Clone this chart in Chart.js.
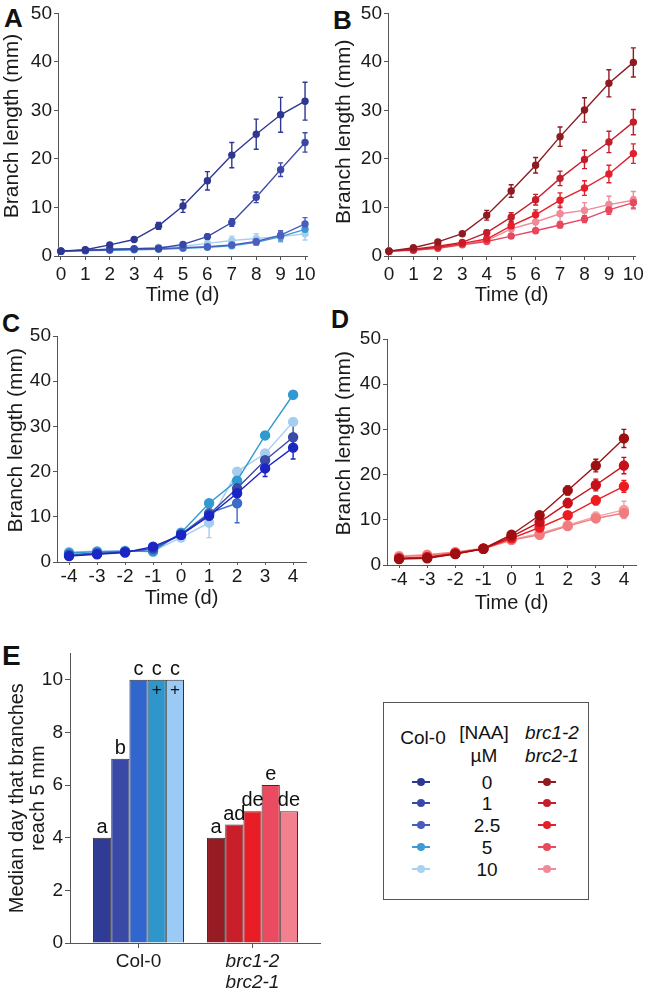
<!DOCTYPE html>
<html>
<head>
<meta charset="utf-8">
<script src="https://cdn.jsdelivr.net/npm/chart.js@4.4.1/dist/chart.umd.min.js"></script>
<style>
  body { margin: 0; background: #fff; font-family: "Liberation Sans", Arial, sans-serif; }
  #fig { position: relative; width: 647px; height: 994px; overflow: hidden; }
  .panel { position: absolute; }
  .tag { position: absolute; font-weight: bold; line-height: 1; color: #111; }
  #legend { position: absolute; left: 383px; top: 702px; width: 204px; height: 196px; border: 1px solid #555; }
  #legend span { position: absolute; transform: translate(-50%, -50%); white-space: nowrap; font-size: 19px; color: #111; line-height: 1; }
  #legend i { font-style: italic; }
  .mk { position: absolute; width: 18px; height: 2px; transform: translate(-50%, -50%); }
  .mk b { position: absolute; left: 5px; top: -3px; width: 8px; height: 8px; border-radius: 50%; background: inherit; }
</style>
</head>
<body>
<div id="fig">
  <div class="tag" style="left:4px;top:5px;font-size:26px">A</div>
  <div class="tag" style="left:333px;top:7px;font-size:26px">B</div>
  <div class="tag" style="left:2px;top:311px;font-size:25px">C</div>
  <div class="tag" style="left:331px;top:307px;font-size:25px">D</div>
  <div class="tag" style="left:2px;top:642px;font-size:28px">E</div>

  <div class="panel" style="left:0;top:0"><canvas id="chartA" width="320" height="310"></canvas></div>
  <div class="panel" style="left:330px;top:0"><canvas id="chartB" width="317" height="310"></canvas></div>
  <div class="panel" style="left:0;top:320px"><canvas id="chartC" width="320" height="300"></canvas></div>
  <div class="panel" style="left:330px;top:320px"><canvas id="chartD" width="317" height="300"></canvas></div>
  <div class="panel" style="left:0;top:640px"><canvas id="chartE" width="330" height="354"></canvas></div>
  <div id="legend"></div>
</div>

<script>
// ---- data ----
const concentrations = ['0', '1', '2.5', '5', '10'];   // [NAA] uM
const daysAB = [0, 1, 2, 3, 4, 5, 6, 7, 8, 9, 10];
const daysCD = [-4, -3, -2, -1, 0, 1, 2, 3, 4];

// A: Col-0 branch length (mm)
const aLen0   = [1.0, 1.3, 2.3, 3.4, 6.2, 10.3, 15.5, 20.8, 25.1, 29.1, 31.9];
const aLen1   = [1.0, 1.2, 1.4, 1.5, 1.6, 2.4, 4.0, 6.9, 12.1, 17.8, 23.4];
const aLen2_5 = [1.0, 1.1, 1.3, 1.4, 1.5, 1.7, 1.9, 2.3, 3.0, 4.3, 6.6];
const aLen5   = [1.0, 1.1, 1.2, 1.3, 1.4, 1.6, 1.8, 2.1, 2.8, 4.0, 5.5];
const aLen10  = [1.1, 1.2, 1.4, 1.5, 1.8, 2.0, 2.6, 3.2, 3.6, 4.0, 4.6];
const aErr0   = [0.2, 0.2, 0.3, 0.3, 0.7, 1.3, 1.9, 2.6, 3.1, 3.6, 3.9];
const aErr1   = [0.2, 0.2, 0.2, 0.2, 0.3, 0.4, 0.5, 0.8, 1.1, 1.4, 2.0];
const aErr2_5 = [0.2, 0.2, 0.2, 0.2, 0.2, 0.3, 0.3, 0.4, 0.6, 0.9, 1.3];
const aErr5   = [0.2, 0.2, 0.2, 0.2, 0.2, 0.3, 0.3, 0.4, 0.6, 0.9, 1.2];
const aErr10  = [0.2, 0.2, 0.2, 0.3, 0.4, 0.5, 0.7, 0.9, 1.0, 1.1, 1.3];

// B: brc1-2 brc2-1 branch length (mm)
const bLen0   = [1.0, 1.7, 2.9, 4.6, 8.4, 13.4, 18.7, 24.6, 30.1, 35.6, 39.9];
const bLen1   = [1.0, 1.4, 2.0, 2.8, 4.8, 8.0, 11.6, 16.0, 19.9, 23.5, 27.6];
const bLen2_5 = [1.0, 1.3, 1.8, 2.6, 3.5, 6.2, 8.5, 11.5, 14.0, 16.9, 21.1];
const bLen5   = [1.0, 1.2, 1.6, 2.3, 3.0, 4.1, 5.2, 6.4, 7.6, 9.5, 11.0];
const bLen10  = [1.1, 1.2, 1.7, 2.4, 3.2, 5.6, 7.0, 8.7, 9.4, 10.6, 11.5];
const bErr0   = [0.2, 0.3, 0.3, 0.4, 1.0, 1.3, 1.6, 2.0, 2.5, 2.8, 3.0];
const bErr1   = [0.2, 0.2, 0.3, 0.3, 0.5, 0.9, 1.1, 1.5, 1.9, 2.2, 2.6];
const bErr2_5 = [0.2, 0.2, 0.2, 0.3, 0.4, 0.7, 1.0, 1.5, 1.5, 1.8, 2.0];
const bErr5   = [0.2, 0.2, 0.2, 0.3, 0.3, 0.4, 0.5, 0.6, 0.7, 0.9, 1.1];
const bErr10  = [0.2, 0.2, 0.3, 0.4, 0.6, 0.9, 1.3, 1.6, 1.6, 1.7, 1.8];

// C: Col-0, aligned to day branch reached 5 mm
const cLen0   = [1.3, 1.7, 2.1, 3.4, 6.0, 10.2, 15.2, 20.7, 25.3];
const cLen1   = [1.5, 1.8, 2.2, 3.0, 6.0, 10.5, 16.3, 22.5, 27.6];
const cLen2_5 = [1.6, 2.0, 2.3, 2.8, 6.2, 10.8, 13.0, null, null];
const cLen5   = [2.0, 2.3, 2.4, 2.3, 6.5, 13.0, 18.0, 28.0, 37.0];
const cLen10  = [2.2, 2.4, 2.5, 2.4, 5.4, 8.7, 20.0, 24.0, 31.0];
const cErr0   = [0.2, 0.2, 0.2, 0.3, 0.4, 1.0, 1.5, 1.8, 2.5];
const cErr1   = [0.2, 0.2, 0.2, 0.3, 0.4, 1.1, 1.6, 1.9, 3.0];
const cErr2_5 = [0.2, 0.2, 0.2, 0.3, 0.4, 1.2, 4.3, null, null];
const cErr5   = [0.2, 0.2, 0.2, 0.3, 0.4, 0.8, 0.5, 0.3, 0.3];
const cErr10  = [0.2, 0.2, 0.2, 0.3, 0.4, 3.3, 0.8, 0.7, 0.7];

// D: brc1-2 brc2-1, aligned to day branch reached 5 mm
const dLen0   = [1.3, 1.5, 2.4, 3.6, 6.7, 11.0, 16.5, 22.0, 28.0];
const dLen1   = [1.4, 1.6, 2.5, 3.6, 6.3, 9.5, 13.7, 17.7, 22.0];
const dLen2_5 = [1.5, 1.8, 2.6, 3.6, 5.9, 8.3, 11.0, 14.3, 17.4];
const dLen5   = [1.8, 2.2, 2.8, 3.6, 5.5, 6.7, 8.6, 10.3, 11.5];
const dLen10  = [2.0, 2.3, 2.9, 3.7, 5.6, 7.0, 8.8, 10.7, 12.2];
const dErr0   = [0.2, 0.2, 0.2, 0.2, 0.4, 0.6, 1.0, 1.4, 2.0];
const dErr1   = [0.2, 0.2, 0.2, 0.2, 0.4, 0.8, 1.0, 1.3, 1.8];
const dErr2_5 = [0.2, 0.2, 0.2, 0.2, 0.4, 0.5, 0.8, 1.0, 1.3];
const dErr5   = [0.2, 0.2, 0.2, 0.2, 0.3, 0.4, 0.5, 0.7, 1.0];
const dErr10  = [0.2, 0.2, 0.2, 0.2, 0.3, 0.4, 0.6, 1.0, 1.9];

// E: median day that branches reach 5 mm
const strains = ['Col-0', 'brc1-2 brc2-1'];
const medianCol0 = [4, 7, 10, 10, 10];
const medianBrc  = [4, 4.5, 5, 6, 5];
const lettersCol0 = ['a', 'b', 'c', 'c', 'c'];
const lettersBrc  = ['a', 'ad', 'de', 'e', 'de'];
const censoredCol0 = [false, false, false, true, true];   // "+" marks

// ---- styling ----
const FONT = '"Liberation Sans", Arial, sans-serif';
Chart.defaults.font.family = FONT;
Chart.defaults.color = '#1a1a1a';

const bluesA = ['#2e3792', '#3a47a6', '#4b5fc0', '#3b98d3', '#a7cff0'];
const bluesC = ['#1c24c4', '#3a4aa6', '#3c6bc9', '#2f9ad0', '#a6cdf0'];
const redsB  = ['#8e1b22', '#c21f2c', '#e3202b', '#e5485f', '#ef8a9a'];
const redsD  = ['#9e0f12', '#c8101a', '#ee1c20', '#f07c80', '#f5a0a5'];
const barBlues = ['#2f3b95', '#3b49a6', '#3166cf', '#2f96cc', '#9bcaf7'];
const barReds  = ['#961b22', '#c81f2a', '#e91d25', '#eb4b60', '#f3808f'];
const legendBlues = ['#2d3892', '#3a49a8', '#4a5cbc', '#3f9ad6', '#a9d2f0'];
const legendReds  = ['#8e1b22', '#c4202b', '#e61e27', '#e84b5e', '#f08a99'];
const AXIS = '#555';

const errorBars = {
    id: 'errorBars',
    beforeDatasetsDraw(chart) {
        const ctx = chart.ctx;
        const yScale = chart.scales.y;
        for (let i = chart.data.datasets.length - 1; i >= 0; i--) {
            const ds = chart.data.datasets[i];
            if (!ds.errors) continue;
            const meta = chart.getDatasetMeta(i);
            ctx.save();
            ctx.strokeStyle = ds.borderColor;
            ctx.lineWidth = 1.4;
            meta.data.forEach((pt, j) => {
                const v = ds.data[j].y, e = ds.errors[j];
                if (v == null || e == null) return;
                const top = yScale.getPixelForValue(v + e);
                const bot = yScale.getPixelForValue(Math.max(v - e, 0));
                ctx.beginPath();
                ctx.moveTo(pt.x, top); ctx.lineTo(pt.x, bot);
                ctx.moveTo(pt.x - 2.5, top); ctx.lineTo(pt.x + 2.5, top);
                ctx.moveTo(pt.x - 2.5, bot); ctx.lineTo(pt.x + 2.5, bot);
                ctx.stroke();
            });
            ctx.restore();
        }
    }
};

function lineChart(id, days, series, errors, colors, g) {
    const datasets = series.map((vals, i) => ({
        data: vals.map((v, k) => ({ x: days[k], y: v })),
        errors: errors[i],
        borderColor: colors[i],
        backgroundColor: colors[i],
        pointBackgroundColor: colors[i],
        pointBorderColor: colors[i],
        pointRadius: g.radius,
        borderWidth: 1.4,
        clip: false
    }));
    return new Chart(document.getElementById(id), {
        type: 'line',
        data: { datasets: datasets },
        plugins: [errorBars],
        options: {
            responsive: false,
            animation: false,
            layout: { padding: { left: 0, top: g.padTop, right: g.padRight, bottom: 0 } },
            plugins: { legend: { display: false }, tooltip: { enabled: false } },
            scales: {
                x: {
                    type: 'linear', min: g.xMin, max: g.xMax,
                    afterFit: s => { s.height = g.xHeight; },
                    border: { color: AXIS, width: 1 },
                    grid: { drawOnChartArea: false, color: AXIS, tickLength: g.xTick },
                    ticks: { stepSize: 1, includeBounds: false, padding: g.xPad, font: { size: 19 }, maxRotation: 0 },
                    title: { display: true, text: 'Time (d)', font: { size: 20 }, padding: { top: 0, bottom: g.xTitlePad } }
                },
                y: {
                    min: 0, max: 50,
                    afterFit: s => { s.width = g.yWidth; },
                    border: { color: AXIS, width: 1 },
                    grid: { drawOnChartArea: false, color: AXIS, tickLength: 4 },
                    ticks: { stepSize: 10, padding: 2, font: { size: 19 } },
                    title: { display: true, text: g.yTitle, font: { size: 21 }, padding: { top: g.yTitlePad, bottom: 0 } }
                }
            }
        }
    });
}

lineChart('chartA', daysAB,
    [aLen0, aLen1, aLen2_5, aLen5, aLen10], [aErr0, aErr1, aErr2_5, aErr5, aErr10], bluesA,
    { padTop: 11, padRight: 13, yWidth: 58, xHeight: 54, xMin: -0.12, xMax: 10.08,
      xTick: 4, xPad: 3, xTitlePad: 3, yTitlePad: 0, radius: 3, yTitle: '\u00a0\u00a0\u00a0Branch length (mm)' });

lineChart('chartB', daysAB,
    [bLen0, bLen1, bLen2_5, bLen5, bLen10], [bErr0, bErr1, bErr2_5, bErr5, bErr10], redsB,
    { padTop: 11, padRight: 9, yWidth: 58, xHeight: 54, xMin: -0.04, xMax: 10.08,
      xTick: 4, xPad: 3, xTitlePad: 3, yTitlePad: 1.4, radius: 3, yTitle: '\u00a0Branch length (mm)' });

lineChart('chartC', daysCD,
    [cLen0, cLen1, cLen2_5, cLen5, cLen10], [cErr0, cErr1, cErr2_5, cErr5, cErr10], bluesC,
    { padTop: 16, padRight: 14, yWidth: 57, xHeight: 58, xMin: -4.43, xMax: 4.46,
      xTick: 3, xPad: 0, xTitlePad: 10, yTitlePad: 3.4, radius: 4.5, yTitle: '\u00a0\u00a0\u00a0Branch length (mm)' });

lineChart('chartD', daysCD,
    [dLen0, dLen1, dLen2_5, dLen5, dLen10], [dErr0, dErr1, dErr2_5, dErr5, dErr10], redsD,
    { padTop: 19, padRight: 11, yWidth: 57, xHeight: 55, xMin: -4.43, xMax: 4.43,
      xTick: 3, xPad: 0, xTitlePad: 5, yTitlePad: 1.4, radius: 4.5, yTitle: '\u00a0\u00a0\u00a0Branch length (mm)' });

// ---- E: grouped bars ----
const barLabels = {
    id: 'barLabels',
    afterDatasetsDraw(chart) {
        const ctx = chart.ctx;
        ctx.save();
        ctx.fillStyle = '#111';
        ctx.textAlign = 'center';
        chart.data.datasets.forEach((ds, i) => {
            const meta = chart.getDatasetMeta(i);
            meta.data.forEach((bar, j) => {
                const letter = j === 0 ? lettersCol0[i] : lettersBrc[i];
                ctx.font = '20px ' + FONT;
                ctx.textBaseline = 'alphabetic';
                ctx.fillText(letter, bar.x, bar.y - 5);
                if (j === 0 && censoredCol0[i]) {
                    ctx.font = '17px ' + FONT;
                    ctx.textBaseline = 'middle';
                    ctx.fillText('+', bar.x, bar.y + 11);
                }
            });
        });
        ctx.restore();
    }
};

new Chart(document.getElementById('chartE'), {
    type: 'bar',
    data: {
        datasets: concentrations.map((c, i) => ({
            label: c + ' uM',
            data: [{ x: 0, y: medianCol0[i] }, { x: 1, y: medianBrc[i] }],
            backgroundColor: [barBlues[i], barReds[i]],
            borderColor: '#333',
            borderWidth: 1,
            categoryPercentage: 0.798,
            barPercentage: 1
        }))
    },
    plugins: [barLabels],
    options: {
        responsive: false,
        animation: false,
        layout: { padding: { left: 0, top: 5, right: 10, bottom: 0 } },
        plugins: { legend: { display: false }, tooltip: { enabled: false } },
        scales: {
            x: {
                type: 'linear', min: -0.601, max: 1.592, offset: false,
                afterFit: s => { s.height = 51; },
                border: { color: AXIS, width: 1 },
                grid: { drawOnChartArea: false, offset: false, color: AXIS, tickLength: 5 },
                ticks: {
                    stepSize: 1, includeBounds: false, padding: 3, maxRotation: 0,
                    callback: v => v === 1 ? strains[1].split(' ') : strains[v],
                    font: ctx => ({ size: 19, lineHeight: 1.1, style: ctx.tick && ctx.tick.value === 1 ? 'italic' : 'normal' })
                }
            },
            y: {
                min: 0, max: 11,
                afterFit: s => { s.width = 70; },
                border: { color: AXIS, width: 1 },
                grid: { drawOnChartArea: false, color: AXIS, tickLength: 5 },
                ticks: { stepSize: 2, includeBounds: false, padding: 2, font: { size: 19 } },
                title: {
                    display: true, text: ['Median day that branches', 'reach 5 mm'],
                    font: { size: 20, lineHeight: 1.05 }, padding: { top: 7, bottom: 0 }
                }
            }
        }
    }
});

// ---- legend box ----
function buildLegend() {
    const box = document.getElementById('legend');
    let html = '<span style="left:39px;top:34px">Col-0</span>' +
        '<span style="left:100px;top:29px">[NAA]</span>' +
        '<span style="left:100px;top:52px">\u00b5M</span>' +
        '<span style="left:168px;top:29px"><i>brc1-2</i></span>' +
        '<span style="left:168px;top:52px"><i>brc2-1</i></span>';
    const rows = [79, 100, 122, 144, 166];
    concentrations.forEach((c, i) => {
        html += `<div class="mk" style="left:37px;top:${rows[i]}px;background:${legendBlues[i]}"><b></b></div>`;
        html += `<span style="left:103px;top:${rows[i]}px">${c}</span>`;
        html += `<div class="mk" style="left:163px;top:${rows[i]}px;background:${legendReds[i]}"><b></b></div>`;
    });
    box.innerHTML = html;
}
buildLegend();
</script>
</body>
</html>
